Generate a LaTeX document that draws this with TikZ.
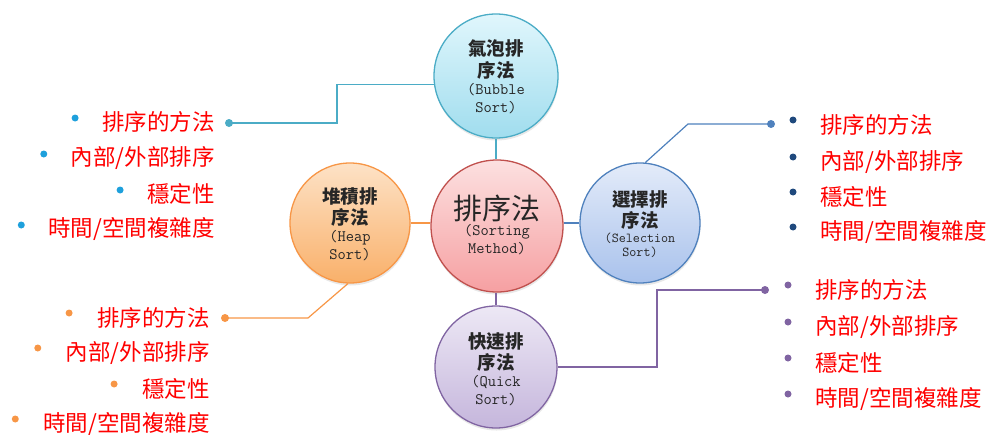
\documentclass[tikz,border=0pt]{standalone}
\usepackage{fontspec}
\newfontfamily\cjk{Noto Sans CJK TC}
\usetikzlibrary{shadows}
\definecolor{cTeal}{HTML}{4BACC6}
\definecolor{cRed}{HTML}{C0504D}
\definecolor{cOrange}{HTML}{F79646}
\definecolor{cBlue}{HTML}{4F81BD}
\definecolor{cPurple}{HTML}{8064A2}
\definecolor{cSky}{HTML}{1EA0DC}
\definecolor{cNavy}{HTML}{1F497D}
\definecolor{gBubT}{HTML}{E0F6FC}\definecolor{gBubB}{HTML}{A0DDEE}
\definecolor{gCenT}{HTML}{FCE0E0}\definecolor{gCenB}{HTML}{F6A0A2}
\definecolor{gHeaT}{HTML}{FDE2C6}\definecolor{gHeaB}{HTML}{F9B06A}
\definecolor{gSelT}{HTML}{E3EBF9}\definecolor{gSelB}{HTML}{A9C2EC}
\definecolor{gQuiT}{HTML}{EDE8F5}\definecolor{gQuiB}{HTML}{C5B6DC}
\newcommand\cirCJK{\fontsize{18.5}{18}\selectfont\cjk\bfseries}
\newcommand\cirLat{\fontsize{16}{18}\selectfont\ttfamily}
\newcommand\cirLatS{\fontsize{13.7}{18}\selectfont\ttfamily}
\tikzset{
  circ/.style={circle, minimum size=#1, inner sep=0pt, line width=1.3pt,
    drop shadow={opacity=0.18, shadow xshift=0.5pt, shadow yshift=-2.5pt}},
  ctext/.style={align=center, inner sep=0pt, text=black!85, font=\fontsize{10}{18}\selectfont},
  lst/.style={inner sep=0pt, text=red, font=\fontsize{22.5}{27}\selectfont\cjk},
  bul/.style={circle, fill=#1, inner sep=0pt, minimum size=7pt},
  cdot/.style={circle, fill=#1, inner sep=0pt, minimum size=8pt},
  link/.style={draw=#1, line width=2.4pt},
  callout/.style={draw=#1, line width=1.2pt},
}
\begin{document}
\begin{tikzpicture}[x=1pt,y=-1pt]
\useasboundingbox (0,0) rectangle (993,434);

% circles
\node[circ=124pt, draw=cTeal, top color=gBubT, bottom color=gBubB] (bubble) at (496,76) {};
\node[circ=132pt, draw=cRed, top color=gCenT, bottom color=gCenB] (center) at (497,226) {};
\node[circ=120pt, draw=cOrange, top color=gHeaT, bottom color=gHeaB] (heap) at (350,223) {};
\node[circ=120pt, draw=cBlue, top color=gSelT, bottom color=gSelB] (sel) at (640,223) {};
\node[circ=122pt, draw=cPurple, top color=gQuiT, bottom color=gQuiB] (quick) at (496,367) {};

% circle texts
\node[ctext] (bubbleT) at (496,77) {{\cirCJK 氣泡排}\\[4pt]{\cirCJK 序法}\\[-1pt]{\cirLat (Bubble}\\{\cirLat Sort)}};
\node[ctext] (centerT) at (497,225) {{\fontsize{29}{28}\selectfont\cjk 排序法}\\[-2pt]{\cirLat (Sorting}\\{\cirLat Method)}};
\node[ctext] (heapT) at (350,224) {{\cirCJK 堆積排}\\[3pt]{\cirCJK 序法}\\[-1pt]{\cirLat (Heap}\\{\cirLat Sort)}};
\node[ctext] (selT) at (640,224) {{\cirCJK 選擇排}\\[3pt]{\cirCJK 序法}\\[-3pt]{\cirLatS (Selection}\\[-4pt]{\cirLatS Sort)}};
\node[ctext] (quickT) at (496,369) {{\cirCJK 快速排}\\[3pt]{\cirCJK 序法}\\[-1pt]{\cirLat (Quick}\\{\cirLat Sort)}};

% center links
\draw[link=cTeal] (bubble.south) -- (bubble.south |- center.north);
\draw[link=cOrange] (heap.east) -- (heap.east -| center.west);
\draw[link=cBlue] (sel.west) -- (sel.west -| center.east);
\draw[link=cPurple] (quick.north) -- (quick.north |- center.south);

% top-left list
\node[lst, anchor=east] (a1) at (215,122) {排序的方法};
\node[lst, anchor=east] (a2) at (215,158) {內部/外部排序};
\node[lst, anchor=east] (a3) at (215,194) {穩定性};
\node[lst, anchor=east] (a4) at (215,229) {時間/空間複雜度};
\foreach \i in {1,...,4} \node[bul=cSky] (ab\i) at ([xshift=-27pt, yshift=4pt]a\i.west) {};
\node[cdot=cTeal] (d1) at (229,123) {};
\coordinate (k1) at (337,123);
\draw[callout=cTeal] (d1.center) -- (k1) |- (bubble.188);

% top-right list
\node[lst, anchor=west] (b1) at (820,125) {排序的方法};
\node[lst, anchor=west] (b2) at (820,162) {內部/外部排序};
\node[lst, anchor=west] (b3) at (820,197) {穩定性};
\node[lst, anchor=west] (b4) at (820,232) {時間/空間複雜度};
\foreach \i in {1,...,4} \node[bul=cNavy] (bb\i) at ([xshift=-27pt, yshift=5pt]b\i.west) {};
\node[cdot=cBlue] (d2) at (771,124) {};
\coordinate (k2) at (688,124);
\draw[callout=cBlue] (d2.center) -- (k2) -- (sel.85);

% bottom-left list
\node[lst, anchor=east] (c1) at (210,318) {排序的方法};
\node[lst, anchor=east] (c2) at (210,353) {內部/外部排序};
\node[lst, anchor=east] (c3) at (210,389) {穩定性};
\node[lst, anchor=east] (c4) at (210,424) {時間/空間複雜度};
\foreach \i in {1,...,4} \node[bul=cOrange] (cb\i) at ([xshift=-28pt, yshift=5pt]c\i.west) {};
\node[cdot=cOrange] (d3) at (225,318) {};
\coordinate (k3) at (308,318);
\draw[callout=cOrange] (d3.center) -- (k3) -- (heap.268);

% bottom-right list
\node[lst, anchor=west] (e1) at (815,290) {排序的方法};
\node[lst, anchor=west] (e2) at (815,327) {內部/外部排序};
\node[lst, anchor=west] (e3) at (815,363) {穩定性};
\node[lst, anchor=west] (e4) at (815,399) {時間/空間複雜度};
\foreach \i in {1,...,4} \node[bul=cPurple] (eb\i) at ([xshift=-27pt, yshift=5pt]e\i.west) {};
\node[cdot=cPurple] (d4) at (765,290) {};
\coordinate (k4) at (657,290);
\draw[callout=cPurple] (d4.center) -- (k4) |- (quick.east);
\end{tikzpicture}
\end{document}
